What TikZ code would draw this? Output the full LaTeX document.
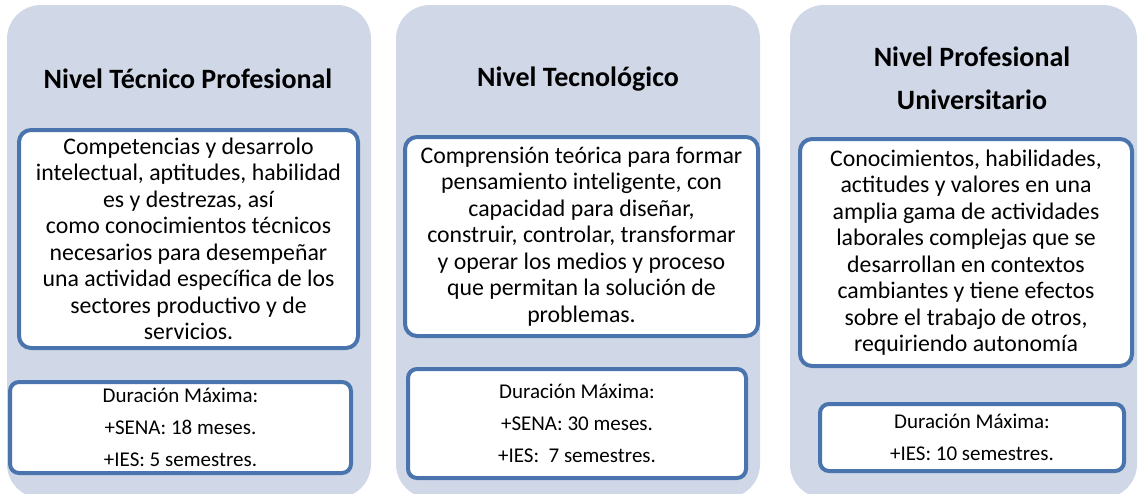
\documentclass[tikz,border=0pt]{standalone}
\usepackage{fontspec}
\setmainfont{Carlito}
\definecolor{bgcol}{RGB}{208,216,232}
\definecolor{edgecol}{RGB}{74,116,173}
\begin{document}
\begin{tikzpicture}[x=1pt,y=-1pt,
  colbg/.style={fill=bgcol, rounded corners=34pt, inner sep=0pt, outer sep=0pt},
  mainbox/.style={draw=edgecol, line width=4pt, fill=white, rounded corners=12pt, align=center, inner sep=0pt, font=\fontsize{23.8}{26.5}\selectfont},
  durbox/.style={draw=edgecol, line width=4pt, fill=white, rounded corners=9pt, align=center, inner sep=0pt, font=\fontsize{21}{32}\selectfont},
  titletext/.style={align=center, inner sep=0pt, font=\fontsize{28}{43}\selectfont\bfseries}]
\useasboundingbox (0,0) rectangle (1142,493);
% column backgrounds
\node[colbg, minimum width=364pt, minimum height=493pt] (bg1) at (189,251.5) {};
\node[colbg, minimum width=364pt, minimum height=493pt] (bg2) at (578,251.5) {};
\node[colbg, minimum width=347pt, minimum height=493pt] (bg3) at (963.5,251.5) {};
% titles
\node[titletext] (t1) at (188,79) {Nivel Técnico Profesional};
\node[titletext] (t2) at (578,79) {Nivel Tecnológico};
\node[titletext] (t3) at (972,78) {Nivel Profesional\\Universitario};
% content boxes
\node[mainbox, minimum width=339pt, minimum height=218pt] (c1) at (188.5,239) {Competencias y desarrolo\\intelectual, aptitudes, habilidad\\es y destrezas, así\\como conocimientos técnicos\\necesarios para desempeñar\\una actividad específica de los\\sectores productivo y de\\servicios.};
\node[mainbox, minimum width=353pt, minimum height=199pt] (c2) at (581.5,236.5) {Comprensión teórica para formar\\pensamiento inteligente, con\\capacidad para diseñar,\\construir, controlar, transformar\\y operar los medios y proceso\\que permitan la solución de\\problemas.};
\node[mainbox, minimum width=332pt, minimum height=227pt] (c3) at (966,252.5) {Conocimientos, habilidades,\\actitudes y valores en una\\amplia gama de actividades\\laborales complejas que se\\desarrollan en contextos\\cambiantes y tiene efectos\\sobre el trabajo de otros,\\requiriendo autonomía};
% duration boxes
\node[durbox, minimum width=341pt, minimum height=91pt] (d1) at (180.5,427.5) {Duración Máxima:\\+SENA: 18 meses.\\+IES: 5 semestres.};
\node[durbox, minimum width=338pt, minimum height=109pt] (d2) at (577,423.5) {Duración Máxima:\\+SENA: 30 meses.\\+IES:\ \ 7 semestres.};
\node[durbox, minimum width=304pt, minimum height=67pt] (d3) at (972,437.5) {Duración Máxima:\\+IES: 10 semestres.};
\end{tikzpicture}
\end{document}
